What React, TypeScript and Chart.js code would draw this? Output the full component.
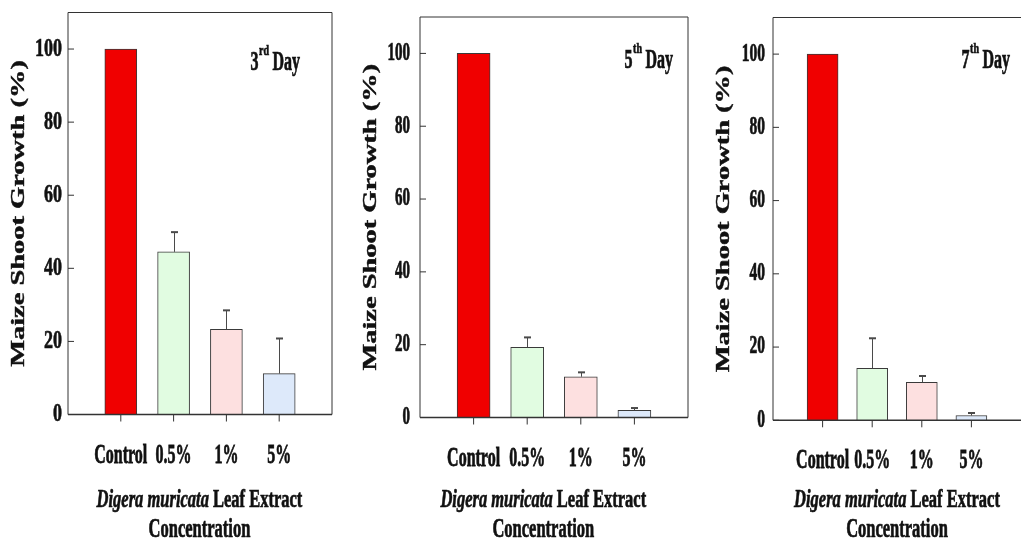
import React, { useEffect, useRef } from 'react';
import { Chart, registerables } from 'chart.js';

Chart.register(...registerables);

// ---------- data ----------
const categories = ['Control', '0.5%', '1%', '5%'];
const day3Values = [100, 44.5, 23.3, 11.2];
const day3Errors = [0, 5.4, 5.2, 9.6];
const day5Values = [100, 19.3, 11.2, 2.0];
const day5Errors = [0, 2.7, 1.2, 0.6];
const day7Values = [100, 14.2, 10.4, 1.3];
const day7Errors = [0, 8.2, 1.7, 0.7];
const yTicks = [0, 20, 40, 60, 80, 100];
const dayNumbers = ['3', '5', '7'];
const daySuffixes = ['rd', 'th', 'th'];
const yTitle = 'Maize Shoot Growth (%)';
const xTitleItalic = 'Digera muricata';
const xTitleRest = ' Leaf Extract';
const xTitleLine2 = 'Concentration';

// ---------- styles / layout ----------
const barColors = ['#f00000', '#e1fce1', '#fde0e0', '#dde9fa'];
const SERIF = '"Liberation Serif", "Times New Roman", serif';
const INK = '#111';

const panels = [
  {
    values: day3Values, errors: day3Errors,
    pad: { left: 68, top: 12.5, right: 689, bottom: 131.5 },
    xMax: 5, barThickness: 32, tickFont: 18, tickSy: 1.4, tickGap: 6,
    dayRight: 32, dayBaseline: 70, titleX: 2.49, drawRight: true,
  },
  {
    values: day5Values, errors: day5Errors,
    pad: { left: 420, top: 17, right: 333, bottom: 128.5 },
    xMax: 5, barThickness: 33, tickFont: 15, tickSy: 1.65, tickGap: 10,
    dayRight: 15, dayBaseline: 68, titleX: 2.3, drawRight: true,
  },
  {
    values: day7Values, errors: day7Errors,
    pad: { left: 773, top: 17.5, right: -8, bottom: 125.7 },
    xMax: 5, barThickness: 31, tickFont: 15.5, tickSy: 1.6, tickGap: 8,
    dayRight: 11, dayBaseline: 68, titleX: 2.5, drawRight: false,
  },
];

function sText(
  ctx: CanvasRenderingContext2D, text: string, x: number, y: number,
  font: string, sy: number, align: CanvasTextAlign, baseline: CanvasTextBaseline,
) {
  ctx.save();
  ctx.translate(x, y);
  ctx.scale(1, sy);
  ctx.font = font;
  ctx.textAlign = align;
  ctx.textBaseline = baseline;
  ctx.fillStyle = INK;
  ctx.strokeStyle = INK;
  ctx.lineWidth = 0.45;
  ctx.fillText(text, 0, 0);
  ctx.strokeText(text, 0, 0);
  ctx.restore();
}

function line(ctx: CanvasRenderingContext2D, x1: number, y1: number, x2: number, y2: number) {
  ctx.beginPath();
  ctx.moveTo(x1, y1);
  ctx.lineTo(x2, y2);
  ctx.stroke();
}

function makeDecor(idx: number) {
  const p = panels[idx];
  return {
    id: 'decor' + idx,
    afterDraw(chart: any) {
      const ctx: CanvasRenderingContext2D = chart.ctx;
      const { left, right, top, bottom } = chart.chartArea;
      const xs = chart.scales.x;
      const ys = chart.scales.y;
      ctx.save();
      // error bars (upper)
      const meta = chart.getDatasetMeta(0);
      ctx.strokeStyle = '#4a4a4a';
      p.errors.forEach((e: number, i: number) => {
        if (!e) return;
        const bx = Math.round(meta.data[i].x) + 0.5;
        const y0 = ys.getPixelForValue(p.values[i]);
        const y1 = ys.getPixelForValue(p.values[i] + e);
        ctx.lineWidth = 1;
        line(ctx, bx, y0, bx, y1);
        ctx.lineWidth = 2;
        line(ctx, bx - 3.5, y1, bx + 3.5, y1);
      });
      // frame
      ctx.strokeStyle = '#333';
      ctx.lineWidth = 1;
      line(ctx, left, top, right, top);
      line(ctx, left, top, left, bottom);
      if (p.drawRight) line(ctx, right, top, right, bottom);
      ctx.lineWidth = 1.5;
      line(ctx, left, bottom, right, bottom);
      // y ticks
      yTicks.forEach((v) => {
        const y = ys.getPixelForValue(v);
        ctx.strokeStyle = '#333';
        ctx.lineWidth = 1;
        line(ctx, left, y, left + 6, y);
        sText(ctx, String(v), left - p.tickGap, y, `bold ${p.tickFont}px ${SERIF}`, p.tickSy, 'right', 'middle');
      });
      // x ticks
      categories.forEach((c, i) => {
        const x = xs.getPixelForValue(i + 1);
        ctx.strokeStyle = '#333';
        ctx.lineWidth = 1;
        line(ctx, x, bottom, x, bottom + 7);
        sText(ctx, c, x, bottom + 48, `bold 16px ${SERIF}`, 1.75, 'center', 'alphabetic');
      });
      // y title (rotated, stretched along length)
      ctx.save();
      ctx.translate(left - 49, (top + bottom) / 2);
      ctx.rotate(-Math.PI / 2);
      ctx.scale(1.58, 1);
      ctx.font = `bold 18px ${SERIF}`;
      ctx.textAlign = 'center';
      ctx.textBaseline = 'middle';
      ctx.fillStyle = INK;
      ctx.strokeStyle = INK;
      ctx.lineWidth = 0.4;
      ctx.fillText(yTitle, 0, 0);
      ctx.strokeText(yTitle, 0, 0);
      ctx.restore();
      // x title
      const fI = `italic bold 16.5px ${SERIF}`;
      const fB = `bold 16.5px ${SERIF}`;
      ctx.font = fI;
      const wI = ctx.measureText(xTitleItalic).width;
      ctx.font = fB;
      const wR = ctx.measureText(xTitleRest).width;
      const cx = xs.getPixelForValue(p.titleX);
      const sx = cx - (wI + wR) / 2;
      sText(ctx, xTitleItalic, sx, 507, fI, 1.55, 'left', 'alphabetic');
      sText(ctx, xTitleRest, sx + wI, 507, fB, 1.55, 'left', 'alphabetic');
      sText(ctx, xTitleLine2, cx, 537, fB, 1.6, 'center', 'alphabetic');
      // day annotation
      const fD = `bold 16px ${SERIF}`;
      const fS = `bold 10px ${SERIF}`;
      ctx.font = fD;
      const wNum = ctx.measureText(dayNumbers[idx]).width;
      const wDay = ctx.measureText(' Day').width;
      ctx.font = fS;
      const wSup = ctx.measureText(daySuffixes[idx]).width;
      const rx = right - p.dayRight;
      const start = rx - (wNum + wSup + wDay);
      sText(ctx, dayNumbers[idx], start, p.dayBaseline, fD, 1.65, 'left', 'alphabetic');
      sText(ctx, daySuffixes[idx], start + wNum + 0.5, p.dayBaseline - 15, fS, 1.5, 'left', 'alphabetic');
      sText(ctx, ' Day', start + wNum + wSup, p.dayBaseline, fD, 1.65, 'left', 'alphabetic');
      ctx.restore();
    },
  };
}

function Panel({ idx }: { idx: number }) {
  const ref = useRef<HTMLCanvasElement | null>(null);
  useEffect(() => {
    const p = panels[idx];
    const chart = new Chart(ref.current as HTMLCanvasElement, {
      type: 'bar',
      data: {
        datasets: [
          {
            data: p.values.map((v, i) => ({ x: i + 1, y: v })),
            backgroundColor: barColors,
            borderColor: '#3a3a3a',
            borderWidth: 1,
            barThickness: p.barThickness,
          } as any,
        ],
      },
      options: {
        animation: false,
        responsive: false,
        events: [],
        layout: { padding: p.pad },
        plugins: { legend: { display: false }, tooltip: { enabled: false } },
        scales: {
          x: { type: 'linear', min: 0, max: p.xMax, offset: false, display: false, grid: { offset: false } },
          y: { type: 'linear', min: 0, max: 110, display: false },
        },
      },
      plugins: [makeDecor(idx)],
    });
    return () => chart.destroy();
  }, [idx]);
  return (
    <canvas
      ref={ref}
      width={1021}
      height={546}
      style={{ position: 'absolute', left: 0, top: 0, width: 1021, height: 546 }}
    />
  );
}

export default function App() {
  return (
    <div style={{ position: 'absolute', left: 0, top: 0, width: 1021, height: 546, overflow: 'hidden', background: '#fff' }}>
      <Panel idx={0} />
      <Panel idx={1} />
      <Panel idx={2} />
    </div>
  );
}
